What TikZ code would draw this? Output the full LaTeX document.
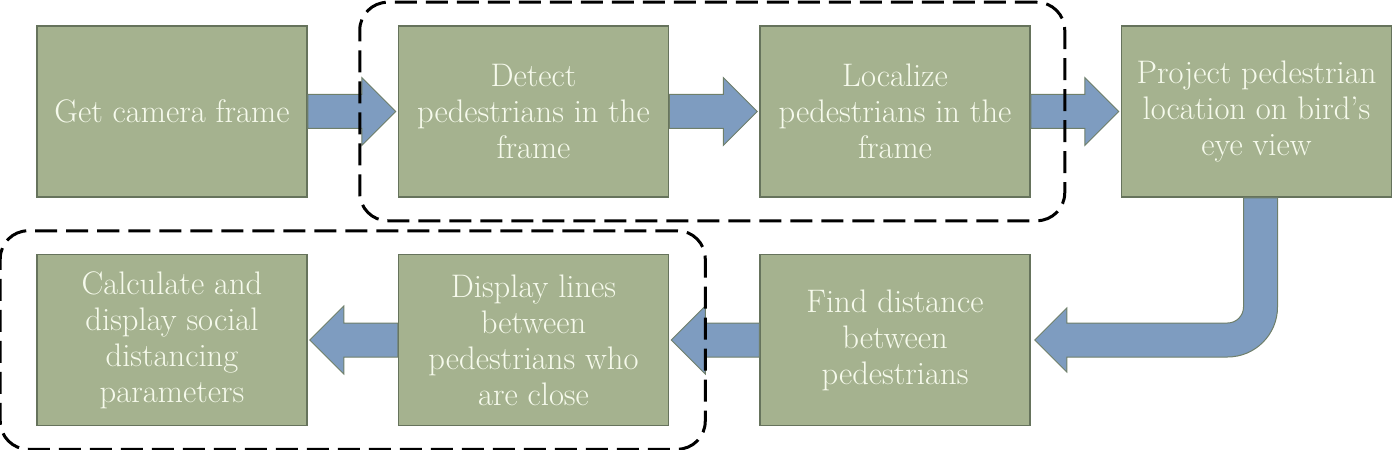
\documentclass[tikz,border=0pt]{standalone}
\usepackage{tikz}
\usetikzlibrary{positioning,fit,calc}

\definecolor{boxgreen}{HTML}{A5B28F}
\definecolor{boxedge}{HTML}{66735C}
\definecolor{boxtext}{HTML}{F6FAEC}
\definecolor{arrowblue}{HTML}{7E9CC0}
\definecolor{arrowedge}{HTML}{6F7F6A}

% fat block arrow between two anchors, in the direction from #1 to #2
\newcommand{\fatarrow}[2]{%
  \filldraw[fat] let \p1=(#1), \p2=(#2), \n1={sign(\x2-\x1)} in
    (\x1,\y1+8.5pt) -- (\x2-\n1*18pt,\y1+8.5pt) -- (\x2-\n1*18pt,\y1+17pt)
    -- (\x2-\n1*1pt,\y1) -- (\x2-\n1*18pt,\y1-17pt) -- (\x2-\n1*18pt,\y1-8.5pt)
    -- (\x1,\y1-8.5pt) -- cycle;}

\begin{document}
\begin{tikzpicture}[
        node distance=28pt and 45pt,
        box/.style={draw=boxedge,line width=0.75pt,fill=boxgreen,text=boxtext,
            minimum width=135pt,minimum height=85.5pt,inner sep=4pt,align=center,
            font=\fontsize{16.3}{18}\selectfont},
        fat/.style={fill=arrowblue,draw=arrowedge,line width=0.5pt},
        group/.style={draw,line width=1.5pt,dash pattern=on 11pt off 4.5pt,
            rounded corners=14pt,inner xsep=18pt,inner ysep=11.5pt}]

    \useasboundingbox (-86pt,55.75pt) rectangle (614pt,-168.75pt);

    % top row
    \node[box] (frame) at (0,0) {Get camera frame};
    \node[box,right=of frame] (detect) {Detect\\pedestrians in the\\frame};
    \node[box,right=of detect] (localize) {Localize\\pedestrians in the\\frame};
    \node[box,right=of localize] (project) {Project pedestrian\\location on bird's\\eye view};

    % bottom row
    \node[box,below=of localize] (dist) {Find distance\\between\\pedestrians};
    \node[box,below=of detect] (lines) {Display lines\\between\\pedestrians who\\are close};
    \node[box,below=of frame] (calc) {Calculate and\\display social\\distancing\\parameters};

    \fatarrow{frame.east}{detect.west}
    \fatarrow{detect.east}{localize.west}
    \fatarrow{localize.east}{project.west}

    % bent arrow down and back to the left
    \filldraw[fat] let \p1=(project.south), \p2=(dist.east) in
        (\x1-6.5pt,\y1) -- (\x1-6.5pt,\y2+16.5pt)
        arc[start angle=0,end angle=-90,radius=8pt]
        -- (\x2+18pt,\y2+8.5pt) -- (\x2+18pt,\y2+16pt) -- (\x2+2pt,\y2)
        -- (\x2+18pt,\y2-16pt) -- (\x2+18pt,\y2-8.5pt)
        -- (\x1-14.5pt,\y2-8.5pt)
        arc[start angle=-90,end angle=0,radius=25pt]
        -- (\x1+10.5pt,\y1) -- cycle;

    \fatarrow{dist.west}{lines.east}
    \fatarrow{lines.west}{calc.east}

    % dashed groups
    \node[group,fit=(detect)(localize),xshift=-1pt] (detgroup) {};
    \node[group,fit=(calc)(lines)] (dispgroup) {};
\end{tikzpicture}
\end{document}
